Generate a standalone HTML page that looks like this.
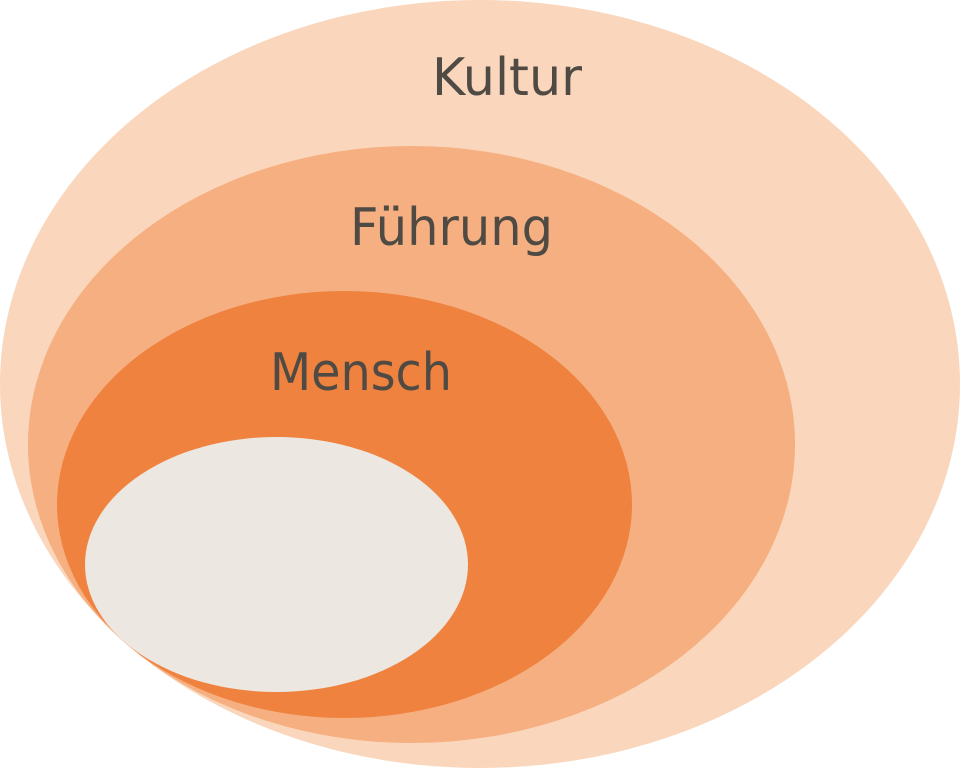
<!DOCTYPE html>
<html><head><meta charset="utf-8"><style>html,body{margin:0;padding:0;background:#fff}svg{display:block}</style></head>
<body>
<svg width="960" height="768" viewBox="0 0 960 768" xmlns="http://www.w3.org/2000/svg">
<ellipse cx="480" cy="384" rx="480" ry="384" fill="#FAD7BC"/>
<ellipse cx="411.5" cy="444.5" rx="383.5" ry="298.5" fill="#F5AF80"/>
<ellipse cx="344.5" cy="504.5" rx="287.5" ry="213.5" fill="#EF823E"/>
<ellipse cx="276.5" cy="564.5" rx="191.5" ry="127.5" fill="#ECE7E0"/>
<g font-family="'DejaVu Sans','Liberation Sans',sans-serif" font-size="52" fill="#4F4A44">
<text x="432" y="95" textLength="150" lengthAdjust="spacingAndGlyphs">Kultur</text>
<text x="350" y="245" textLength="203" lengthAdjust="spacingAndGlyphs">Führung</text>
<text x="270" y="390" textLength="182" lengthAdjust="spacingAndGlyphs">Mensch</text>
</g>
</svg>
</body></html>
